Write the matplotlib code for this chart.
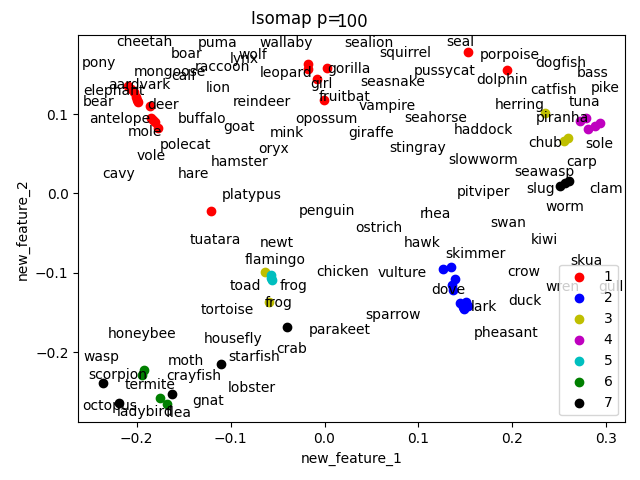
import matplotlib
matplotlib.use("Agg")
import matplotlib.pyplot as plt

# class labels and colours
classes = [1, 2, 3, 4, 5, 6, 7]
colors = ['r', 'b', 'y', 'm', 'c', 'g', 'k']

# scatter points per class (new_feature_1, new_feature_2)
c1_x = [-0.2093, -0.2061, -0.2029, -0.2008, -0.1997, -0.1987, -0.1858, -0.1848, -0.1826, -0.1805, -0.1773,
        -0.0176, -0.0176, 0.0027, -0.0080, -0.0005, 0.1528, 0.1944, -0.1209]
c1_y = [0.1358, 0.1320, 0.1282, 0.1219, 0.1181, 0.1156, 0.1105, 0.0953, 0.0928, 0.0902, 0.0827,
        0.1624, 0.1573, 0.1586, 0.1443, 0.1181, 0.1776, 0.1557, -0.0224]
c2_x = [0.1262, 0.1347, 0.1390, 0.1358, 0.1369, 0.1443, 0.1507, 0.1528, 0.1475, 0.1486]
c2_y = [-0.0946, -0.0920, -0.1072, -0.1148, -0.1211, -0.1376, -0.1363, -0.1414, -0.1427, -0.1452]
c3_x = [0.2348, 0.2551, 0.2593, -0.0634, -0.0586]
c3_y = [0.1010, 0.0662, 0.0700, -0.0984, -0.1363]
c4_x = [0.2722, 0.2786, 0.2807, 0.2882, 0.2935]
c4_y = [0.0915, 0.0953, 0.0814, 0.0852, 0.0890]
c5_x = [-0.0570, -0.0559, -0.0565]
c5_y = [-0.1022, -0.1085, -0.1060]
c6_x = [-0.1922, -0.1944, -0.1752, -0.1677]
c6_y = [-0.2224, -0.2288, -0.2578, -0.2654]
c7_x = [-0.2359, -0.2189, -0.1624, -0.1097, -0.0399, 0.2508, 0.2561, 0.2604]
c7_y = [-0.2382, -0.2642, -0.2528, -0.2154, -0.1680, 0.0099, 0.0130, 0.0156]

# animal names and their text positions
names = ['cheetah', 'puma', 'wallaby', 'sealion', 'seal', 'boar', 'wolf', 'squirrel', 'porpoise', 'lynx',
         'pony', 'dogfish', 'raccoon', 'gorilla', 'pussycat', 'mongoose', 'leopard', 'bass', 'calf', 'dolphin',
         'seasnake', 'girl', 'aardvark', 'lion', 'pike', 'catfish', 'elephant', 'fruitbat', 'bear', 'reindeer',
         'tuna', 'deer', 'herring', 'vampire', 'seahorse', 'piranha', 'opossum', 'antelope', 'buffalo', 'goat',
         'haddock', 'mole', 'mink', 'giraffe', 'chub', 'sole', 'polecat', 'stingray', 'oryx', 'vole',
         'slowworm', 'hamster', 'carp', 'seawasp', 'cavy', 'hare', 'slug', 'clam', 'pitviper', 'platypus',
         'worm', 'penguin', 'rhea', 'swan', 'ostrich', 'kiwi', 'tuatara', 'newt', 'hawk', 'skimmer',
         'flamingo', 'skua', 'chicken', 'crow', 'vulture', 'toad', 'frog', 'gull', 'wren', 'dove',
         'duck', 'frog', 'lark', 'tortoise', 'sparrow', 'parakeet', 'pheasant', 'honeybee', 'housefly', 'crab',
         'wasp', 'starfish', 'moth', 'scorpion', 'crayfish', 'termite', 'lobster', 'gnat', 'octopus', 'ladybird',
         'flea']
text_x = [-0.2221, -0.1355, -0.0694, 0.0211, 0.1301, -0.1638, -0.0918, 0.0584, 0.1649, -0.1014,
          -0.2590, 0.2245, -0.1379, 0.0030, 0.0946, -0.2036, -0.0687, 0.2686, -0.1627, 0.1613,
          0.0378, -0.0149, -0.2309, -0.1262, 0.2838, 0.2189, -0.2569, -0.0066, -0.2569, -0.0978,
          0.2596, -0.1887, 0.1808, 0.0364, 0.0850, 0.2252, -0.0314, -0.2511, -0.1568, -0.1078,
          0.1372, -0.2090, -0.0580, 0.0258, 0.2170, 0.2778, -0.1759, 0.0690, -0.0705, -0.2000,
          0.1318, -0.1212, 0.2569, 0.2021, -0.2366, -0.1568, 0.2153, 0.2814, 0.1408, -0.1095,
          0.2356, -0.0279, 0.1017, 0.1763, 0.0328, 0.2199, -0.1432, -0.0687, 0.0839, 0.1287,
          -0.0847, 0.2615, -0.0083, 0.1947, 0.0567, -0.1006, -0.0474, 0.2916, 0.2356, 0.1134,
          0.1957, -0.0634, 0.1557, -0.1315, 0.0431, -0.0173, 0.1585, -0.2313, -0.1291, -0.0517,
          -0.2569, -0.1025, -0.1664, -0.2516, -0.1688, -0.2132, -0.1025, -0.1404, -0.2575, -0.2207,
          -0.1688]
text_y = [0.1856, 0.1848, 0.1848, 0.1848, 0.1856, 0.1709, 0.1696, 0.1721, 0.1687, 0.1646,
          0.1595, 0.1595, 0.1544, 0.1519, 0.1497, 0.1476, 0.1463, 0.1468, 0.1425, 0.1380,
          0.1349, 0.1327, 0.1316, 0.1273, 0.1273, 0.1253, 0.1240, 0.1159, 0.1105, 0.1105,
          0.1096, 0.1063, 0.1063, 0.1054, 0.0906, 0.0899, 0.0886, 0.0886, 0.0886, 0.0789,
          0.0751, 0.0725, 0.0716, 0.0709, 0.0582, 0.0570, 0.0557, 0.0527, 0.0514, 0.0422,
          0.0367, 0.0346, 0.0346, 0.0219, 0.0190, 0.0190, 0.0000, 0.0000, -0.0034, -0.0072,
          -0.0220, -0.0275, -0.0304, -0.0423, -0.0486, -0.0633, -0.0642, -0.0676, -0.0676, -0.0815,
          -0.0886, -0.0895, -0.1034, -0.1043, -0.1056, -0.1215, -0.1215, -0.1224, -0.1233, -0.1266,
          -0.1405, -0.1435, -0.1486, -0.1519, -0.1575, -0.1765, -0.1803, -0.1815, -0.1878, -0.2005,
          -0.2110, -0.2110, -0.2161, -0.2342, -0.2351, -0.2461, -0.2499, -0.2658, -0.2721, -0.2806,
          -0.2819]

points_x = [c1_x, c2_x, c3_x, c4_x, c5_x, c6_x, c7_x]
points_y = [c1_y, c2_y, c3_y, c4_y, c5_y, c6_y, c7_y]

fig = plt.figure(figsize=(6.4, 4.8), dpi=100)
ax = fig.add_subplot(111)
for k, col, xs, ys in zip(classes, colors, points_x, points_y):
    ax.scatter(xs, ys, c=col, label=str(k))
for name, tx, ty in zip(names, text_x, text_y):
    ax.text(tx, ty, name)

ax.set_xlim(-0.2622, 0.3200)
ax.set_ylim(-0.2882, 0.1995)
ax.set_xlabel('new_feature_1')
ax.set_ylabel('new_feature_2')
ax.set_title('100')
fig.suptitle('Isomap p=', x=0.4622)
ax.legend(loc='lower right')
fig.subplots_adjust(left=0.1223, right=0.9766, top=0.927, bottom=0.1202)
fig.savefig('out.png', dpi=100)
